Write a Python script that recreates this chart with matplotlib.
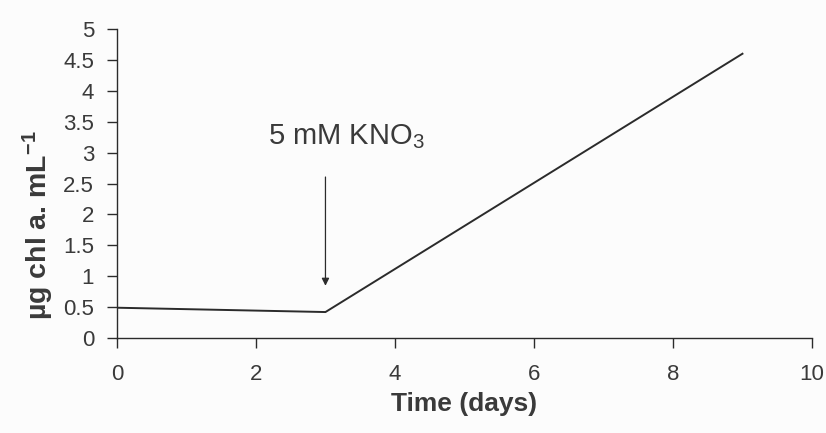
import matplotlib.pyplot as plt

plt.rcParams['font.family'] = ['Liberation Sans', 'DejaVu Sans']
plt.rcParams['mathtext.default'] = 'regular'

# chlorophyll a over time, nitrate added at day 3
days = [0, 3, 9]
chl = [0.49, 0.42, 4.6]
x_ticks = [0, 2, 4, 6, 8, 10]
y_ticks = [0, 0.5, 1, 1.5, 2, 2.5, 3, 3.5, 4, 4.5, 5]
y_tick_labels = ['0', '0.5', '1', '1.5', '2', '2.5', '3', '3.5', '4', '4.5', '5']
add_day = 3.0

ink = '#2b2b2b'
txt = '#3a3a3a'

fig = plt.figure(figsize=(8.26, 4.33), dpi=100)
fig.patch.set_facecolor('#fcfcfc')
ax = fig.add_axes([0.1416, 0.2194, 0.8414, 0.7136])
ax.set_facecolor('#fcfcfc')

ax.plot(days, chl, color=ink, lw=1.4)

# arrow marking the KNO3 addition
ax.annotate('', xy=(add_day, 0.8), xytext=(add_day, 2.65),
            arrowprops=dict(arrowstyle='-|>', color=ink, lw=0.9,
                            mutation_scale=11))
ax.text(3.3, 3.26, r'5 mM KNO$_3$', fontsize=21, color=txt,
        ha='center', va='center')

ax.set_xlim(0, 10)
ax.set_ylim(0, 5)
ax.set_xticks(x_ticks)
ax.set_yticks(y_ticks)
ax.set_yticklabels(y_tick_labels)
ax.tick_params(direction='out', length=7, width=1, colors=ink,
               labelcolor=txt, labelsize=16)
ax.tick_params(axis='y', pad=9.5)
ax.tick_params(axis='x', pad=12)

for side in ['top', 'right']:
    ax.spines[side].set_visible(False)
for side in ['left', 'bottom']:
    ax.spines[side].set_color(ink)
    ax.spines[side].set_linewidth(1)

ax.set_xlabel('Time (days)', fontsize=19, fontweight='bold', color=txt,
              labelpad=5)
ax.set_ylabel(r'µg chl a. mL$^{-1}$', fontsize=20.5, fontweight='bold',
              color=txt)
ax.yaxis.set_label_coords(-0.088, 0.366)

fig.savefig('out.png', dpi=100, facecolor=fig.get_facecolor())
